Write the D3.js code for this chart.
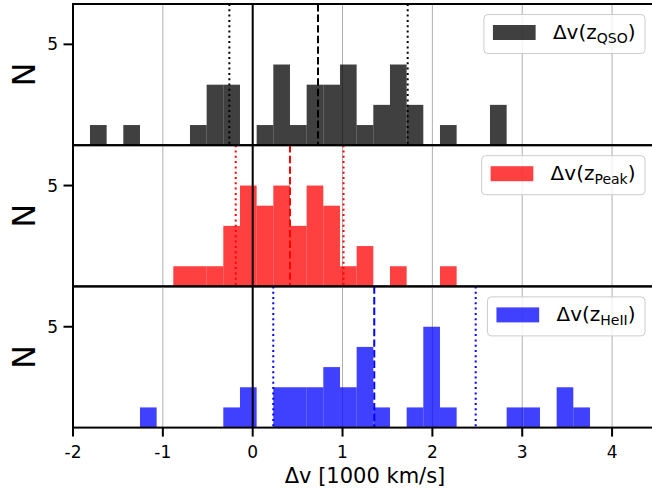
<!DOCTYPE html>
<html>
<head>
<meta charset="utf-8">
<script src="https://cdn.jsdelivr.net/npm/d3@7"></script>
<style>
  html, body { margin: 0; padding: 0; background: #fff; }
  svg { display: block; font-family: "DejaVu Sans", sans-serif; }
</style>
</head>
<body>
<svg id="chart" width="652" height="489"></svg>
<script>
// Velocity offsets (1000 km/s) of three redshift estimators, shared histogram bins
const xTicks = [-2, -1, 0, 1, 2, 3, 4];
const yTicks = [5];
const binStart = -1.811;
const binWidth = 0.1855;

const seriesNames = ["QSO", "Peak", "HeII"];
const seriesColors = ["#000000", "#ff0000", "#0000ff"];

const qsoCounts  = [1,0,1,0,0,0,1,3,3,0,1,4,1,3,3,4,1,2,4,2,0,1,0,0,2,0,0,0,0,0];
const peakCounts = [0,0,0,0,0,1,1,1,3,5,4,5,3,5,4,1,2,0,1,0,0,1,0,0,0,0,0,0,0,0];
const heiiCounts = [0,0,0,1,0,0,0,0,1,2,0,2,2,2,3,2,4,1,0,1,5,1,0,0,0,1,1,0,2,1];

// [lower percentile, median, upper percentile]
const qsoStats  = [-0.260, 0.727, 1.725];
const peakStats = [-0.189, 0.415, 1.011];
const heiiStats = [0.229, 1.353, 2.482];

const countsList = [qsoCounts, peakCounts, heiiCounts];
const statsList = [qsoStats, peakStats, heiiStats];

const svg = d3.select("#chart");
const left = 73, right = 657;
const panelTop = 4, panelH = 141.2;

const x = d3.scaleLinear().domain([-2, 4.5]).range([left, right]);
const y = d3.scaleLinear().domain([0, 7]).range([panelH, 0]);

const bins = d3.range(qsoCounts.length).map(i => binStart + i * binWidth);

countsList.forEach((counts, p) => {
  const g = svg.append("g").attr("transform", `translate(0,${panelTop + p * panelH})`);
  const color = seriesColors[p];

  // grid
  g.selectAll("line.grid").data(xTicks).join("line")
    .attr("class", "grid")
    .attr("x1", d => x(d)).attr("x2", d => x(d))
    .attr("y1", 0).attr("y2", panelH)
    .attr("stroke", "#b0b0b0").attr("stroke-width", 1);

  // histogram bars
  g.selectAll("rect.bar").data(counts.map((c, i) => ({c, x0: bins[i]})).filter(d => d.c > 0))
    .join("rect")
    .attr("class", "bar")
    .attr("x", d => x(d.x0))
    .attr("width", x(binWidth) - x(0))
    .attr("y", d => y(d.c))
    .attr("height", d => y(0) - y(d.c))
    .attr("fill", color).attr("fill-opacity", 0.75);

  // zero line
  g.append("line")
    .attr("x1", x(0)).attr("x2", x(0)).attr("y1", 0).attr("y2", panelH)
    .attr("stroke", "#000").attr("stroke-width", 2);

  // percentile and median markers
  const st = statsList[p];
  st.forEach((v, k) => {
    g.append("line")
      .attr("x1", x(v)).attr("x2", x(v)).attr("y1", 0).attr("y2", panelH)
      .attr("stroke", color).attr("stroke-width", 2)
      .attr("stroke-dasharray", k === 1 ? "7.4,3.2" : "2,3.3");
  });

  // y axis tick
  yTicks.forEach(t => {
    g.append("line")
      .attr("x1", left - 9.5).attr("x2", left).attr("y1", y(t)).attr("y2", y(t))
      .attr("stroke", "#000").attr("stroke-width", 2);
    g.append("text")
      .attr("x", left - 15).attr("y", y(t)).attr("dy", "0.36em")
      .attr("text-anchor", "end").attr("font-size", 17).text(t);
  });

  // y label
  g.append("text")
    .attr("transform", `translate(35,${panelH / 2}) rotate(-90)`)
    .attr("text-anchor", "middle").attr("font-size", 32).text("N");

  // frame
  g.append("rect")
    .attr("x", left).attr("y", 0).attr("width", right - left).attr("height", panelH)
    .attr("fill", "none").attr("stroke", "#000").attr("stroke-width", 2);

  // legend
  const lg = g.append("g");
  const box = lg.append("rect")
    .attr("rx", 4).attr("ry", 4)
    .attr("fill", "#fff").attr("fill-opacity", 0.8)
    .attr("stroke", "#cccccc").attr("stroke-width", 1);
  const txt = lg.append("text").attr("font-size", 20).attr("y", 35);
  txt.append("tspan").text("\u0394v(z");
  txt.append("tspan").attr("font-size", 14).attr("dy", 4).text(seriesNames[p]);
  txt.append("tspan").attr("dy", -4).text(")");
  const tLen = txt.node().getComputedTextLength();
  const boxRight = 645;
  const textStart = boxRight - 9.5 - tLen;
  txt.attr("x", textStart);
  const patchRight = textStart - 17.3;
  const patchLeft = patchRight - 42.7;
  lg.append("rect")
    .attr("x", patchLeft).attr("y", 21).attr("width", 42.7).attr("height", 15)
    .attr("fill", color).attr("fill-opacity", 0.75);
  box.attr("x", patchLeft - 9).attr("y", 10.5)
    .attr("width", boxRight - (patchLeft - 9)).attr("height", 39);
});

// bottom x axis
const axisY = panelTop + 3 * panelH;
const xg = svg.append("g");
xTicks.forEach(t => {
  xg.append("line")
    .attr("x1", x(t)).attr("x2", x(t)).attr("y1", axisY).attr("y2", axisY + 9)
    .attr("stroke", "#000").attr("stroke-width", 2);
  xg.append("text")
    .attr("x", x(t)).attr("y", 457.5)
    .attr("text-anchor", "middle").attr("font-size", 17).text(t);
});
svg.append("text")
  .attr("x", (left + right) / 2).attr("y", 483.3)
  .attr("text-anchor", "middle").attr("font-size", 21)
  .text("\u0394v [1000 km/s]");
</script>
</body>
</html>
